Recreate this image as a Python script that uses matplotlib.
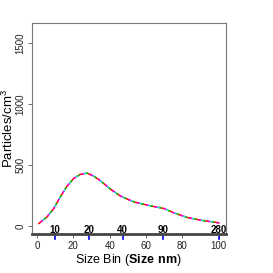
import numpy as np
import matplotlib
matplotlib.use("Agg")
import matplotlib.pyplot as plt
import matplotlib.transforms as mtransforms

plt.rcParams['font.family'] = ['Liberation Sans', 'DejaVu Sans']
plt.rcParams['mathtext.fontset'] = 'custom'
plt.rcParams['mathtext.rm'] = 'Liberation Sans'
plt.rcParams['mathtext.bf'] = 'Liberation Sans:bold'

# size bin index and particle concentration
size_bin = [1, 5.5, 9.2, 12.8, 16.5, 20.2, 23.8, 27.5, 31.2, 34.9, 40.4,
            45.9, 53.2, 62.4, 69.7, 75.2, 82.6, 89.9, 100]
particles = [22, 76, 145, 240, 328, 391, 424, 434, 410, 371, 303,
             246, 199, 166, 145, 109, 71, 49, 27]

# secondary size axis (nm) placed at bin positions
size_pos = [9.7, 28.5, 47.1, 69.5, 100.2]
size_lab = ["10", "20", "40", "90", "280"]

line_cols = ["red", "#00cc00", "cyan", "magenta"]

fig = plt.figure(figsize=(2.73, 2.73), dpi=100)
ax = fig.add_axes([0.116, 0.143, 0.712, 0.773])

for i, c in enumerate(line_cols):
    ax.plot(size_bin, particles, color=c, lw=1.1,
            linestyle=(i * 1.5, (1.5, 4.5)) if i else "-")

ax.set_xlim(-2.96, 103.96)
ax.set_ylim(-64, 1664)
ax.set_xticks([0, 20, 40, 60, 80, 100])
ax.set_yticks([0, 500, 1000, 1500])
ax.tick_params(axis='both', direction='out', length=3, width=0.6,
               color='#555555', labelsize=7, labelcolor='#222222', pad=2)
ax.tick_params(axis='y', labelrotation=90, pad=1.5)
for lab in ax.get_yticklabels():
    lab.set_va('center')

for s in ['left', 'right', 'top']:
    ax.spines[s].set_color('#777777')
    ax.spines[s].set_linewidth(0.8)
ax.spines['bottom'].set_color('#444444')
ax.spines['bottom'].set_linewidth(2)

# secondary size labels over the bottom line
trans = mtransforms.blended_transform_factory(ax.transData, ax.transAxes)
for p, l in zip(size_pos, size_lab):
    ax.plot([p, p], [0.0, -0.022], color='blue', lw=1.2, transform=trans,
            clip_on=False)
    ax.text(p, -0.006, l, transform=trans, ha='center', va='bottom',
            fontsize=7, fontweight='bold', color='black')

ax.set_xlabel("Size Bin ($\\mathbf{Size\\ nm}$)", fontsize=9, labelpad=1)
ax.set_ylabel("Particles/cm$^3$", fontsize=9.5)
ax.yaxis.set_label_coords(-0.083, 0.5)

fig.savefig("out.png", dpi=100)
